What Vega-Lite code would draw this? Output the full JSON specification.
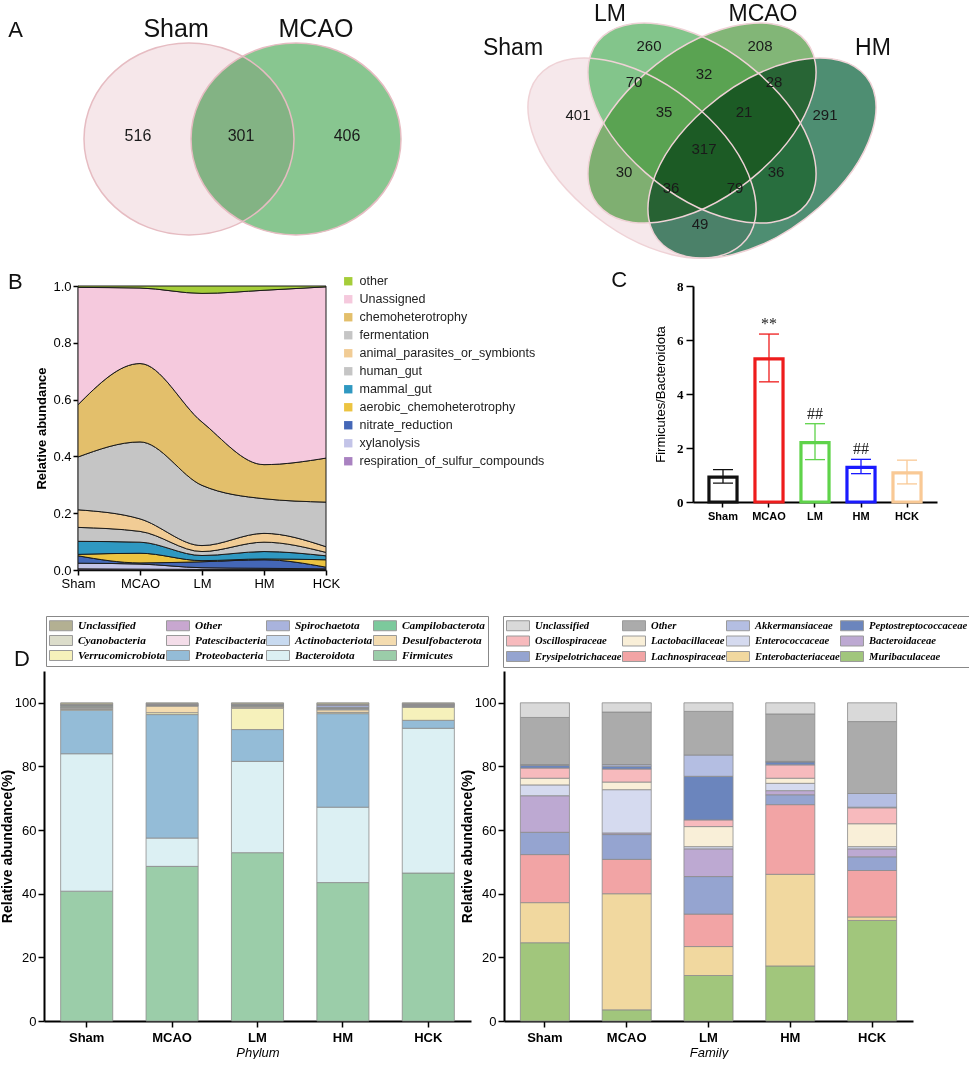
{
"$schema": "https://vega.github.io/schema/vega-lite/v6.json",
"padding": 0,
"background": "white",
"spacing": 4,
"resolve": {"scale": {"color": "independent", "stroke": "independent"}, "legend": {"color": "independent", "stroke": "independent"}},
"config": {
  "view": {"stroke": null},
  "font": "Liberation Sans",
  "axis": {"grid": false, "domainColor": "#000", "tickColor": "#000", "labelColor": "#000", "titleColor": "#000", "labelFont": "Liberation Sans", "titleFont": "Liberation Sans"},
  "title": {"font": "Liberation Sans", "color": "#000"},
  "text": {"font": "Liberation Sans"}
},
"datasets": {
  "faprotax": [
    {"group":"Sham","func":"respiration_of_sulfur_compounds","value":0.004},{"group":"Sham","func":"xylanolysis","value":0.020},{"group":"Sham","func":"nitrate_reduction","value":0.026},{"group":"Sham","func":"aerobic_chemoheterotrophy","value":0.005},{"group":"Sham","func":"mammal_gut","value":0.046},{"group":"Sham","func":"human_gut","value":0.049},{"group":"Sham","func":"animal_parasites_or_symbionts","value":0.062},{"group":"Sham","func":"fermentation","value":0.186},{"group":"Sham","func":"chemoheterotrophy","value":0.184},{"group":"Sham","func":"Unassigned","value":0.413},{"group":"Sham","func":"other","value":0.005},
    {"group":"MCAO","func":"respiration_of_sulfur_compounds","value":0.003},{"group":"MCAO","func":"xylanolysis","value":0.018},{"group":"MCAO","func":"nitrate_reduction","value":0.004},{"group":"MCAO","func":"aerobic_chemoheterotrophy","value":0.034},{"group":"MCAO","func":"mammal_gut","value":0.039},{"group":"MCAO","func":"human_gut","value":0.038},{"group":"MCAO","func":"animal_parasites_or_symbionts","value":0.044},{"group":"MCAO","func":"fermentation","value":0.271},{"group":"MCAO","func":"chemoheterotrophy","value":0.276},{"group":"MCAO","func":"Unassigned","value":0.266},{"group":"MCAO","func":"other","value":0.007},
    {"group":"LM","func":"respiration_of_sulfur_compounds","value":0.002},{"group":"LM","func":"xylanolysis","value":0.006},{"group":"LM","func":"nitrate_reduction","value":0.021},{"group":"LM","func":"aerobic_chemoheterotrophy","value":0.004},{"group":"LM","func":"mammal_gut","value":0.018},{"group":"LM","func":"human_gut","value":0.014},{"group":"LM","func":"animal_parasites_or_symbionts","value":0.021},{"group":"LM","func":"fermentation","value":0.212},{"group":"LM","func":"chemoheterotrophy","value":0.223},{"group":"LM","func":"Unassigned","value":0.453},{"group":"LM","func":"other","value":0.026},
    {"group":"HM","func":"respiration_of_sulfur_compounds","value":0.002},{"group":"HM","func":"xylanolysis","value":0.004},{"group":"HM","func":"nitrate_reduction","value":0.030},{"group":"HM","func":"aerobic_chemoheterotrophy","value":0.003},{"group":"HM","func":"mammal_gut","value":0.026},{"group":"HM","func":"human_gut","value":0.033},{"group":"HM","func":"animal_parasites_or_symbionts","value":0.031},{"group":"HM","func":"fermentation","value":0.122},{"group":"HM","func":"chemoheterotrophy","value":0.120},{"group":"HM","func":"Unassigned","value":0.614},{"group":"HM","func":"other","value":0.015},
    {"group":"HCK","func":"respiration_of_sulfur_compounds","value":0.002},{"group":"HCK","func":"xylanolysis","value":0.002},{"group":"HCK","func":"nitrate_reduction","value":0.006},{"group":"HCK","func":"aerobic_chemoheterotrophy","value":0.026},{"group":"HCK","func":"mammal_gut","value":0.014},{"group":"HCK","func":"human_gut","value":0.012},{"group":"HCK","func":"animal_parasites_or_symbionts","value":0.020},{"group":"HCK","func":"fermentation","value":0.157},{"group":"HCK","func":"chemoheterotrophy","value":0.155},{"group":"HCK","func":"Unassigned","value":0.603},{"group":"HCK","func":"other","value":0.003}
  ],
  "func_legend": [
    {"func":"other","legend_pos":1},{"func":"Unassigned","legend_pos":2},{"func":"chemoheterotrophy","legend_pos":3},{"func":"fermentation","legend_pos":4},{"func":"animal_parasites_or_symbionts","legend_pos":5},{"func":"human_gut","legend_pos":6},{"func":"mammal_gut","legend_pos":7},{"func":"aerobic_chemoheterotrophy","legend_pos":8},{"func":"nitrate_reduction","legend_pos":9},{"func":"xylanolysis","legend_pos":10},{"func":"respiration_of_sulfur_compounds","legend_pos":11}
  ],
  "fb_ratio": [
    {"group":"Sham","ratio":0.92,"lo":0.70,"hi":1.20,"sig":""},
    {"group":"MCAO","ratio":5.30,"lo":4.45,"hi":6.22,"sig":"**"},
    {"group":"LM","ratio":2.20,"lo":1.57,"hi":2.90,"sig":"##"},
    {"group":"HM","ratio":1.28,"lo":1.05,"hi":1.58,"sig":"##"},
    {"group":"HCK","ratio":1.08,"lo":0.67,"hi":1.55,"sig":""}
  ],
  "phyla": [
    {"group":"Sham","phylum":"Firmicutes","pct":40.8},{"group":"Sham","phylum":"Bacteroidota","pct":43.2},{"group":"Sham","phylum":"Proteobacteria","pct":13.7},{"group":"Sham","phylum":"Verrucomicrobiota","pct":0.2},{"group":"Sham","phylum":"Desulfobacterota","pct":0.4},{"group":"Sham","phylum":"Actinobacteriota","pct":0.2},{"group":"Sham","phylum":"Patescibacteria","pct":0.1},{"group":"Sham","phylum":"Cyanobacteria","pct":0.3},{"group":"Sham","phylum":"Campilobacterota","pct":0.3},{"group":"Sham","phylum":"Spirochaetota","pct":0.1},{"group":"Sham","phylum":"Other","pct":0.2},{"group":"Sham","phylum":"Unclassified","pct":0.5},
    {"group":"MCAO","phylum":"Firmicutes","pct":48.6},{"group":"MCAO","phylum":"Bacteroidota","pct":8.9},{"group":"MCAO","phylum":"Proteobacteria","pct":38.8},{"group":"MCAO","phylum":"Verrucomicrobiota","pct":0.6},{"group":"MCAO","phylum":"Desulfobacterota","pct":2.1},{"group":"MCAO","phylum":"Actinobacteriota","pct":0.1},{"group":"MCAO","phylum":"Patescibacteria","pct":0.1},{"group":"MCAO","phylum":"Cyanobacteria","pct":0.1},{"group":"MCAO","phylum":"Campilobacterota","pct":0.1},{"group":"MCAO","phylum":"Spirochaetota","pct":0.1},{"group":"MCAO","phylum":"Other","pct":0.2},{"group":"MCAO","phylum":"Unclassified","pct":0.3},
    {"group":"LM","phylum":"Firmicutes","pct":52.9},{"group":"LM","phylum":"Bacteroidota","pct":28.7},{"group":"LM","phylum":"Proteobacteria","pct":10.0},{"group":"LM","phylum":"Verrucomicrobiota","pct":6.7},{"group":"LM","phylum":"Desulfobacterota","pct":0.4},{"group":"LM","phylum":"Actinobacteriota","pct":0.1},{"group":"LM","phylum":"Patescibacteria","pct":0.1},{"group":"LM","phylum":"Cyanobacteria","pct":0.2},{"group":"LM","phylum":"Campilobacterota","pct":0.2},{"group":"LM","phylum":"Spirochaetota","pct":0.1},{"group":"LM","phylum":"Other","pct":0.2},{"group":"LM","phylum":"Unclassified","pct":0.4},
    {"group":"HM","phylum":"Firmicutes","pct":43.5},{"group":"HM","phylum":"Bacteroidota","pct":23.7},{"group":"HM","phylum":"Proteobacteria","pct":29.4},{"group":"HM","phylum":"Verrucomicrobiota","pct":0.4},{"group":"HM","phylum":"Desulfobacterota","pct":0.8},{"group":"HM","phylum":"Actinobacteriota","pct":0.3},{"group":"HM","phylum":"Patescibacteria","pct":0.1},{"group":"HM","phylum":"Cyanobacteria","pct":0.2},{"group":"HM","phylum":"Campilobacterota","pct":0.2},{"group":"HM","phylum":"Spirochaetota","pct":0.6},{"group":"HM","phylum":"Other","pct":0.3},{"group":"HM","phylum":"Unclassified","pct":0.5},
    {"group":"HCK","phylum":"Firmicutes","pct":46.5},{"group":"HCK","phylum":"Bacteroidota","pct":45.5},{"group":"HCK","phylum":"Proteobacteria","pct":2.5},{"group":"HCK","phylum":"Verrucomicrobiota","pct":4.1},{"group":"HCK","phylum":"Desulfobacterota","pct":0.2},{"group":"HCK","phylum":"Actinobacteriota","pct":0.2},{"group":"HCK","phylum":"Patescibacteria","pct":0.1},{"group":"HCK","phylum":"Cyanobacteria","pct":0.2},{"group":"HCK","phylum":"Campilobacterota","pct":0.1},{"group":"HCK","phylum":"Spirochaetota","pct":0.1},{"group":"HCK","phylum":"Other","pct":0.2},{"group":"HCK","phylum":"Unclassified","pct":0.3}
  ],
  "phylum_legend": [
    {"phylum":"Unclassified","legend_pos":1},{"phylum":"Other","legend_pos":2},{"phylum":"Spirochaetota","legend_pos":3},{"phylum":"Campilobacterota","legend_pos":4},{"phylum":"Cyanobacteria","legend_pos":5},{"phylum":"Patescibacteria","legend_pos":6},{"phylum":"Actinobacteriota","legend_pos":7},{"phylum":"Desulfobacterota","legend_pos":8},{"phylum":"Verrucomicrobiota","legend_pos":9},{"phylum":"Proteobacteria","legend_pos":10},{"phylum":"Bacteroidota","legend_pos":11},{"phylum":"Firmicutes","legend_pos":12}
  ],
  "families": [
    {"group":"Sham","family":"Muribaculaceae","pct":24.6},{"group":"Sham","family":"Enterobacteriaceae","pct":12.6},{"group":"Sham","family":"Lachnospiraceae","pct":15.1},{"group":"Sham","family":"Erysipelotrichaceae","pct":7.0},{"group":"Sham","family":"Bacteroidaceae","pct":11.5},{"group":"Sham","family":"Enterococcaceae","pct":3.4},{"group":"Sham","family":"Lactobacillaceae","pct":2.1},{"group":"Sham","family":"Oscillospiraceae","pct":3.2},{"group":"Sham","family":"Peptostreptococcaceae","pct":0.8},{"group":"Sham","family":"Akkermansiaceae","pct":0.3},{"group":"Sham","family":"Other","pct":14.8},{"group":"Sham","family":"Unclassified","pct":4.6},
    {"group":"MCAO","family":"Muribaculaceae","pct":3.5},{"group":"MCAO","family":"Enterobacteriaceae","pct":36.5},{"group":"MCAO","family":"Lachnospiraceae","pct":10.8},{"group":"MCAO","family":"Erysipelotrichaceae","pct":7.8},{"group":"MCAO","family":"Bacteroidaceae","pct":0.5},{"group":"MCAO","family":"Enterococcaceae","pct":13.6},{"group":"MCAO","family":"Lactobacillaceae","pct":2.4},{"group":"MCAO","family":"Oscillospiraceae","pct":4.1},{"group":"MCAO","family":"Peptostreptococcaceae","pct":0.9},{"group":"MCAO","family":"Akkermansiaceae","pct":0.5},{"group":"MCAO","family":"Other","pct":16.5},{"group":"MCAO","family":"Unclassified","pct":2.9},
    {"group":"LM","family":"Muribaculaceae","pct":14.3},{"group":"LM","family":"Enterobacteriaceae","pct":9.1},{"group":"LM","family":"Lachnospiraceae","pct":10.2},{"group":"LM","family":"Erysipelotrichaceae","pct":11.8},{"group":"LM","family":"Bacteroidaceae","pct":8.7},{"group":"LM","family":"Enterococcaceae","pct":0.7},{"group":"LM","family":"Lactobacillaceae","pct":6.3},{"group":"LM","family":"Oscillospiraceae","pct":2.1},{"group":"LM","family":"Peptostreptococcaceae","pct":13.7},{"group":"LM","family":"Akkermansiaceae","pct":6.7},{"group":"LM","family":"Other","pct":13.7},{"group":"LM","family":"Unclassified","pct":2.7},
    {"group":"HM","family":"Muribaculaceae","pct":17.3},{"group":"HM","family":"Enterobacteriaceae","pct":28.8},{"group":"HM","family":"Lachnospiraceae","pct":21.9},{"group":"HM","family":"Erysipelotrichaceae","pct":3.1},{"group":"HM","family":"Bacteroidaceae","pct":1.3},{"group":"HM","family":"Enterococcaceae","pct":2.3},{"group":"HM","family":"Lactobacillaceae","pct":1.6},{"group":"HM","family":"Oscillospiraceae","pct":4.2},{"group":"HM","family":"Peptostreptococcaceae","pct":0.9},{"group":"HM","family":"Akkermansiaceae","pct":0.2},{"group":"HM","family":"Other","pct":14.9},{"group":"HM","family":"Unclassified","pct":3.5},
    {"group":"HCK","family":"Muribaculaceae","pct":31.6},{"group":"HCK","family":"Enterobacteriaceae","pct":1.1},{"group":"HCK","family":"Lachnospiraceae","pct":14.6},{"group":"HCK","family":"Erysipelotrichaceae","pct":4.3},{"group":"HCK","family":"Bacteroidaceae","pct":2.5},{"group":"HCK","family":"Enterococcaceae","pct":0.7},{"group":"HCK","family":"Lactobacillaceae","pct":7.2},{"group":"HCK","family":"Oscillospiraceae","pct":5.0},{"group":"HCK","family":"Peptostreptococcaceae","pct":0.2},{"group":"HCK","family":"Akkermansiaceae","pct":4.3},{"group":"HCK","family":"Other","pct":22.6},{"group":"HCK","family":"Unclassified","pct":5.9}
  ],
  "family_legend": [
    {"family":"Unclassified","legend_pos":1},{"family":"Other","legend_pos":2},{"family":"Akkermansiaceae","legend_pos":3},{"family":"Peptostreptococcaceae","legend_pos":4},{"family":"Oscillospiraceae","legend_pos":5},{"family":"Lactobacillaceae","legend_pos":6},{"family":"Enterococcaceae","legend_pos":7},{"family":"Bacteroidaceae","legend_pos":8},{"family":"Erysipelotrichaceae","legend_pos":9},{"family":"Lachnospiraceae","legend_pos":10},{"family":"Enterobacteriaceae","legend_pos":11},{"family":"Muribaculaceae","legend_pos":12}
  ]
},
"vconcat": [
  {
    "hconcat": [
      {
        "width": 480, "height": 265,
        "encoding": {
          "x": {"field": "u", "type": "quantitative", "scale": {"domain": [-2.257, 2.229], "nice": false, "zero": false}, "axis": null},
          "y": {"field": "v", "type": "quantitative", "scale": {"domain": [-1.178, 1.299], "nice": false, "zero": false}, "axis": null}
        },
        "layer": [
          {"data": {"values": [{"set": "Sham", "u": -0.5, "v": 0}]},
           "mark": {"type": "point", "shape": "M1,0 C1,0.505 0.552,0.914 0,0.914 C-0.552,0.914 -1,0.505 -1,0 C-1,-0.505 -0.552,-0.914 0,-0.914 C0.552,-0.914 1,-0.505 1,0 Z", "size": 44100, "filled": true, "color": "#f6e7ea", "opacity": 1, "strokeWidth": 0}},
          {"data": {"values": [{"set": "MCAO", "u": 0.5, "v": 0}]},
           "mark": {"type": "point", "shape": "M1,0 C1,0.505 0.552,0.914 0,0.914 C-0.552,0.914 -1,0.505 -1,0 C-1,-0.505 -0.552,-0.914 0,-0.914 C0.552,-0.914 1,-0.505 1,0 Z", "size": 44100, "filled": true, "color": "#88c690", "opacity": 1, "strokeWidth": 0, "blend": "multiply"}},
          {"data": {"values": [{"set": "Sham", "u": -0.5, "v": 0}, {"set": "MCAO", "u": 0.5, "v": 0}]},
           "mark": {"type": "point", "shape": "M1,0 C1,0.505 0.552,0.914 0,0.914 C-0.552,0.914 -1,0.505 -1,0 C-1,-0.505 -0.552,-0.914 0,-0.914 C0.552,-0.914 1,-0.505 1,0 Z", "size": 44100, "filled": false, "stroke": "#e6bcc2", "strokeWidth": 1.5, "opacity": 1}},
          {"data": {"values": [{"n": "516", "u": -0.977, "v": 0.028}, {"n": "301", "u": -0.014, "v": 0.028}, {"n": "406", "u": 0.977, "v": 0.028}]},
           "mark": {"type": "text", "fontSize": 16, "baseline": "middle", "align": "center", "color": "#1a1a1a"},
           "encoding": {"text": {"field": "n", "type": "nominal"}}},
          {"data": {"values": [{"label": "Sham", "u": -0.621, "v": 0.953}, {"label": "MCAO", "u": 0.687, "v": 0.953}]},
           "mark": {"type": "text", "fontSize": 25, "baseline": "alphabetic", "align": "center", "color": "#111"},
           "encoding": {"text": {"field": "label", "type": "nominal"}}},
          {"data": {"values": [{"label": "A", "u": -2.19, "v": 0.953}]},
           "mark": {"type": "text", "fontSize": 22, "baseline": "alphabetic", "align": "left", "color": "#111"},
           "encoding": {"text": {"field": "label", "type": "nominal"}}}
        ]
      },
      {
        "width": 489, "height": 265,
        "encoding": {
          "x": {"field": "u", "type": "quantitative", "scale": {"domain": [-0.0525, 1.17], "nice": false, "zero": false}, "axis": null},
          "y": {"field": "v", "type": "quantitative", "scale": {"domain": [0.1655, 0.9205], "nice": false, "zero": false}, "axis": null}
        },
        "layer": [
          {"data": {"values": [{"set": "Sham", "u": 0.35, "v": 0.47}]},
           "mark": {"type": "point", "shape": "M0.990,0.869 C1.303,0.595 1.113,-0.016 0.566,-0.496 C0.019,-0.976 -0.677,-1.143 -0.990,-0.869 C-1.303,-0.595 -1.113,0.016 -0.566,0.496 C-0.019,0.976 0.677,1.143 0.990,0.869 Z", "size": 40000, "filled": true, "color": "#f6e8eb", "opacity": 1, "strokeWidth": 0}},
          {"data": {"values": [{"set": "LM", "u": 0.5, "v": 0.57}]},
           "mark": {"type": "point", "shape": "M0.990,0.869 C1.303,0.595 1.113,-0.016 0.566,-0.496 C0.019,-0.976 -0.677,-1.143 -0.990,-0.869 C-1.303,-0.595 -1.113,0.016 -0.566,0.496 C-0.019,0.976 0.677,1.143 0.990,0.869 Z", "size": 40000, "filled": true, "color": "#83c58b", "opacity": 1, "strokeWidth": 0}},
          {"data": {"values": [{"set": "MCAO", "u": 0.5, "v": 0.57}]},
           "mark": {"type": "point", "shape": "M-0.990,0.869 C-1.303,0.595 -1.113,-0.016 -0.566,-0.496 C-0.019,-0.976 0.677,-1.143 0.990,-0.869 C1.303,-0.595 1.113,0.016 0.566,0.496 C0.019,0.976 -0.677,1.143 -0.990,0.869 Z", "size": 40000, "filled": true, "color": "#479436", "opacity": 0.68, "strokeWidth": 0}},
          {"data": {"values": [{"set": "HM", "u": 0.65, "v": 0.47}]},
           "mark": {"type": "point", "shape": "M-0.990,0.869 C-1.303,0.595 -1.113,-0.016 -0.566,-0.496 C-0.019,-0.976 0.677,-1.143 0.990,-0.869 C1.303,-0.595 1.113,0.016 0.566,0.496 C0.019,0.976 -0.677,1.143 -0.990,0.869 Z", "size": 40000, "filled": true, "color": "#4e8e72", "opacity": 1, "strokeWidth": 0, "blend": "multiply"}},
          {"data": {"values": [{"set": "Sham", "u": 0.35, "v": 0.47}, {"set": "LM", "u": 0.5, "v": 0.57}]},
           "mark": {"type": "point", "shape": "M0.990,0.869 C1.303,0.595 1.113,-0.016 0.566,-0.496 C0.019,-0.976 -0.677,-1.143 -0.990,-0.869 C-1.303,-0.595 -1.113,0.016 -0.566,0.496 C-0.019,0.976 0.677,1.143 0.990,0.869 Z", "size": 40000, "filled": false, "stroke": "#efd2d6", "strokeWidth": 1.5, "opacity": 1}},
          {"data": {"values": [{"set": "MCAO", "u": 0.5, "v": 0.57}, {"set": "HM", "u": 0.65, "v": 0.47}]},
           "mark": {"type": "point", "shape": "M-0.990,0.869 C-1.303,0.595 -1.113,-0.016 -0.566,-0.496 C-0.019,-0.976 0.677,-1.143 0.990,-0.869 C1.303,-0.595 1.113,0.016 0.566,0.496 C0.019,0.976 -0.677,1.143 -0.990,0.869 Z", "size": 40000, "filled": false, "stroke": "#efd2d6", "strokeWidth": 1.5, "opacity": 1}},
          {"data": {"values": [
              {"n": "260", "u": 0.3675, "v": 0.7895}, {"n": "208", "u": 0.645, "v": 0.7895},
              {"n": "70", "u": 0.33, "v": 0.687}, {"n": "32", "u": 0.505, "v": 0.710}, {"n": "28", "u": 0.68, "v": 0.687},
              {"n": "401", "u": 0.19, "v": 0.593}, {"n": "35", "u": 0.405, "v": 0.601}, {"n": "21", "u": 0.605, "v": 0.601}, {"n": "291", "u": 0.8075, "v": 0.593},
              {"n": "317", "u": 0.505, "v": 0.496}, {"n": "30", "u": 0.305, "v": 0.43}, {"n": "36", "u": 0.685, "v": 0.43},
              {"n": "36", "u": 0.4225, "v": 0.385}, {"n": "79", "u": 0.5825, "v": 0.385}, {"n": "49", "u": 0.495, "v": 0.282}]},
           "mark": {"type": "text", "fontSize": 15, "baseline": "middle", "align": "center", "color": "#1a1a1a"},
           "encoding": {"text": {"field": "n", "type": "nominal"}}},
          {"data": {"values": [{"label": "Sham", "u": 0.0275, "v": 0.764}, {"label": "LM", "u": 0.27, "v": 0.86}, {"label": "MCAO", "u": 0.6525, "v": 0.86}, {"label": "HM", "u": 0.9275, "v": 0.764}]},
           "mark": {"type": "text", "fontSize": 23, "baseline": "alphabetic", "align": "center", "color": "#111"},
           "encoding": {"text": {"field": "label", "type": "nominal"}}}
        ]
      }
    ],
    "spacing": 0,
    "bounds": "flush",
    "resolve": {"scale": {"color": "independent", "stroke": "independent"}, "legend": {"color": "independent", "stroke": "independent"}}
  },
  {
    "hconcat": [
      {"width": 77, "height": 325,
       "data": {"values": [{"panel": "B", "u": 0.091, "v": 0.991}]},
       "mark": {"type": "text", "fontSize": 22, "align": "left", "baseline": "alphabetic", "color": "#111"},
       "encoding": {
         "x": {"field": "u", "type": "quantitative", "scale": {"domain": [0, 1], "nice": false, "zero": false}, "axis": null},
         "y": {"field": "v", "type": "quantitative", "scale": {"domain": [0, 1], "nice": false, "zero": false}, "axis": null},
         "text": {"field": "panel", "type": "nominal"}
       }},
      {
        "width": 248, "height": 284,
        "data": {"name": "faprotax"},
        "transform": [{"lookup": "func", "from": {"data": {"name": "func_legend"}, "key": "func", "fields": ["legend_pos"]}}],
        "mark": {"type": "area", "interpolate": "monotone", "stroke": "#1a1a1a", "strokeWidth": 1, "opacity": 1},
        "encoding": {
          "x": {"field": "group", "type": "ordinal", "scale": {"type": "point", "padding": 0, "domain": ["Sham", "MCAO", "LM", "HM", "HCK"]},
                "axis": {"title": null, "labelAngle": 0, "labelFontSize": 13, "tickSize": 5, "tickWidth": 1.5, "domainWidth": 1.5, "labelPadding": 2}},
          "y": {"field": "value", "type": "quantitative", "stack": "zero", "scale": {"domain": [0, 1], "nice": false},
                "axis": {"values": [0, 0.2, 0.4, 0.6, 0.8, 1], "format": ".1f", "labelFontSize": 13, "tickSize": 5, "tickWidth": 1.5, "domainWidth": 1.5, "labelPadding": 2, "title": "Relative abundance", "titleFontSize": 13, "titleFontWeight": "bold", "titlePadding": 4}},
          "color": {"field": "func", "type": "nominal",
                    "scale": {"domain": ["other", "Unassigned", "chemoheterotrophy", "fermentation", "animal_parasites_or_symbionts", "human_gut", "mammal_gut", "aerobic_chemoheterotrophy", "nitrate_reduction", "xylanolysis", "respiration_of_sulfur_compounds"],
                              "range": ["#a5cd39", "#f5c9dd", "#e3bf6b", "#c5c5c5", "#f1cc95", "#c5c5c5", "#2f98c1", "#ecc441", "#4467b7", "#c3c4e8", "#a982c1"]},
                    "legend": {"orient": "none", "legendX": 264, "legendY": -11, "title": null, "symbolType": "square", "symbolSize": 70, "symbolStrokeWidth": 0, "symbolOpacity": 1, "labelFontSize": 12.5, "labelFont": "Liberation Sans", "labelColor": "#222", "rowPadding": 5, "labelOffset": 5, "labelLimit": 300, "padding": 0}},
          "order": {"field": "legend_pos", "type": "quantitative", "sort": "descending"}
        }
      },
      {"width": 367, "height": 10,
       "data": {"values": [{"panel": "C", "u": 0.777, "v": 0.9}]},
       "mark": {"type": "text", "fontSize": 22, "align": "left", "baseline": "alphabetic", "color": "#111"},
       "encoding": {
         "x": {"field": "u", "type": "quantitative", "scale": {"domain": [0, 1], "nice": false, "zero": false}, "axis": null},
         "y": {"field": "v", "type": "quantitative", "scale": {"domain": [0, 1], "nice": false, "zero": false}, "axis": null},
         "text": {"field": "panel", "type": "nominal"}
       }},
      {
        "width": 244, "height": 216,
        "data": {"name": "fb_ratio"},
        "encoding": {
          "x": {"field": "group", "type": "nominal", "scale": {"type": "band", "domain": ["Sham", "MCAO", "LM", "HM", "HCK"], "paddingInner": 0.39, "paddingOuter": 0.347},
                "axis": {"title": null, "labelAngle": 0, "labelFontSize": 11, "labelFontWeight": "bold", "tickSize": 5, "tickWidth": 1.5, "domainWidth": 2, "labelPadding": 3}}
        },
        "layer": [
          {"mark": {"type": "bar", "fill": "white", "strokeWidth": 3.2},
           "encoding": {
             "y": {"field": "ratio", "type": "quantitative", "title": "Firmicutes/Bacteroidota", "scale": {"domain": [0, 8], "nice": false},
                   "axis": {"values": [0, 2, 4, 6, 8], "labelFont": "Liberation Serif", "labelFontWeight": "bold", "labelFontSize": 13, "tickSize": 7, "tickWidth": 1.5, "domainWidth": 2, "labelPadding": 3, "titleFontSize": 13, "titleFontWeight": "normal", "titlePadding": 9}},
             "stroke": {"field": "group", "type": "nominal", "scale": {"domain": ["Sham", "MCAO", "LM", "HM", "HCK"], "range": ["#111111", "#ee1c1c", "#5fd34a", "#1a1aff", "#f9c995"]}, "legend": null}
           }},
          {"mark": {"type": "rule", "strokeWidth": 1.3},
           "encoding": {
             "y": {"field": "lo", "type": "quantitative", "title": "Firmicutes/Bacteroidota"},
             "y2": {"field": "hi"},
             "stroke": {"field": "group", "type": "nominal", "scale": {"domain": ["Sham", "MCAO", "LM", "HM", "HCK"], "range": ["#111111", "#ee1c1c", "#5fd34a", "#1a1aff", "#f9c995"]}, "legend": null}
           }},
          {"mark": {"type": "tick", "orient": "horizontal", "size": 20, "thickness": 1.3, "opacity": 1},
           "encoding": {
             "y": {"field": "hi", "type": "quantitative", "title": "Firmicutes/Bacteroidota"},
             "color": {"field": "group", "type": "nominal", "scale": {"domain": ["Sham", "MCAO", "LM", "HM", "HCK"], "range": ["#111111", "#ee1c1c", "#5fd34a", "#1a1aff", "#f9c995"]}, "legend": null}
           }},
          {"mark": {"type": "tick", "orient": "horizontal", "size": 20, "thickness": 1.3, "opacity": 1},
           "encoding": {
             "y": {"field": "lo", "type": "quantitative", "title": "Firmicutes/Bacteroidota"},
             "color": {"field": "group", "type": "nominal", "scale": {"domain": ["Sham", "MCAO", "LM", "HM", "HCK"], "range": ["#111111", "#ee1c1c", "#5fd34a", "#1a1aff", "#f9c995"]}, "legend": null}
           }},
          {"mark": {"type": "text", "font": "Liberation Serif", "fontSize": 16, "baseline": "alphabetic", "align": "center", "dy": -5, "color": "#222"},
           "encoding": {
             "y": {"field": "hi", "type": "quantitative", "title": "Firmicutes/Bacteroidota"},
             "text": {"field": "sig", "type": "nominal"}
           }}
        ]
      }
    ],
    "spacing": 0,
    "bounds": "flush",
    "resolve": {"scale": {"color": "independent", "stroke": "independent"}, "legend": {"color": "independent", "stroke": "independent"}}
  },
  {
    "hconcat": [
      {"width": 43, "height": 10,
       "data": {"values": [{"panel": "D", "u": 0.302, "v": 1.5}]},
       "mark": {"type": "text", "fontSize": 22, "align": "left", "baseline": "alphabetic", "color": "#111"},
       "encoding": {
         "x": {"field": "u", "type": "quantitative", "scale": {"domain": [0, 1], "nice": false, "zero": false}, "axis": null},
         "y": {"field": "v", "type": "quantitative", "scale": {"domain": [0, 1], "nice": false, "zero": false}, "axis": null},
         "text": {"field": "panel", "type": "nominal"}
       }},
      {
        "width": 427, "height": 350,
        "data": {"name": "phyla"},
        "transform": [{"lookup": "phylum", "from": {"data": {"name": "phylum_legend"}, "key": "phylum", "fields": ["legend_pos"]}}],
        "mark": {"type": "bar", "stroke": "#8c8c8c", "strokeWidth": 0.8},
        "encoding": {
          "x": {"field": "group", "type": "nominal", "scale": {"type": "band", "domain": ["Sham", "MCAO", "LM", "HM", "HCK"], "paddingInner": 0.39, "paddingOuter": 0.195},
                "axis": {"title": "Phylum", "titleFontStyle": "italic", "titleFontWeight": "normal", "titleFontSize": 13, "titlePadding": 2, "labelAngle": 0, "labelFontSize": 13, "labelFontWeight": "bold", "tickSize": 6, "tickWidth": 1.5, "domainWidth": 2, "labelPadding": 4}},
          "y": {"field": "pct", "type": "quantitative", "stack": "zero", "scale": {"domain": [0, 110], "nice": false},
                "axis": {"values": [0, 20, 40, 60, 80, 100], "labelFontSize": 13, "tickSize": 6, "tickWidth": 1.5, "domainWidth": 2, "labelPadding": 2, "title": "Relative abundance(%)", "titleFontSize": 14, "titleFontWeight": "bold", "titlePadding": 0}},
          "color": {"field": "phylum", "type": "nominal",
                    "scale": {"domain": ["Unclassified", "Other", "Spirochaetota", "Campilobacterota", "Cyanobacteria", "Patescibacteria", "Actinobacteriota", "Desulfobacterota", "Verrucomicrobiota", "Proteobacteria", "Bacteroidota", "Firmicutes"],
                              "range": ["#b3b092", "#c8a7d0", "#a9b3dd", "#7cc99c", "#dcddcb", "#f4dde9", "#c8daf0", "#f4dcb0", "#f6f1bb", "#94bcd7", "#dcf0f3", "#9bcda9"]},
                    "legend": {"orient": "none", "legendX": 2, "legendY": -55, "title": null, "direction": "horizontal", "columns": 4,
                               "symbolType": "M-1,-0.833 L2.833,-0.833 L2.833,0.833 L-1,0.833 Z", "symbolSize": 144, "symbolStrokeColor": "#9a9a9a", "symbolStrokeWidth": 1, "symbolOpacity": 1,
                               "labelFont": "Liberation Serif", "labelFontStyle": "italic", "labelFontWeight": "bold", "labelFontSize": 11.3, "labelColor": "#000",
                               "labelOffset": 16, "columnPadding": -2.5, "rowPadding": 0, "padding": 3, "strokeColor": "#888", "fillColor": "white", "labelLimit": 200}},
          "order": {"field": "legend_pos", "type": "quantitative", "sort": "descending"}
        }
      },
      {"width": 33, "height": 10, "data": {"values": []}, "mark": "text"},
      {
        "width": 409, "height": 350,
        "data": {"name": "families"},
        "transform": [{"lookup": "family", "from": {"data": {"name": "family_legend"}, "key": "family", "fields": ["legend_pos"]}}],
        "mark": {"type": "bar", "stroke": "#8c8c8c", "strokeWidth": 0.8},
        "encoding": {
          "x": {"field": "group", "type": "nominal", "scale": {"type": "band", "domain": ["Sham", "MCAO", "LM", "HM", "HCK"], "paddingInner": 0.4, "paddingOuter": 0.2},
                "axis": {"title": "Family", "titleFontStyle": "italic", "titleFontWeight": "normal", "titleFontSize": 13, "titlePadding": 2, "labelAngle": 0, "labelFontSize": 13, "labelFontWeight": "bold", "tickSize": 6, "tickWidth": 1.5, "domainWidth": 2, "labelPadding": 4}},
          "y": {"field": "pct", "type": "quantitative", "stack": "zero", "scale": {"domain": [0, 110], "nice": false},
                "axis": {"values": [0, 20, 40, 60, 80, 100], "labelFontSize": 13, "tickSize": 6, "tickWidth": 1.5, "domainWidth": 2, "labelPadding": 2, "title": "Relative abundance(%)", "titleFontSize": 14, "titleFontWeight": "bold", "titlePadding": 0}},
          "color": {"field": "family", "type": "nominal",
                    "scale": {"domain": ["Unclassified", "Other", "Akkermansiaceae", "Peptostreptococcaceae", "Oscillospiraceae", "Lactobacillaceae", "Enterococcaceae", "Bacteroidaceae", "Erysipelotrichaceae", "Lachnospiraceae", "Enterobacteriaceae", "Muribaculaceae"],
                              "range": ["#d9d9d9", "#ababab", "#b4bee2", "#6b85bd", "#f7babd", "#f9efd8", "#d5daef", "#bda9d2", "#95a4d0", "#f2a4a5", "#f1d89f", "#a1c67c"]},
                    "legend": {"orient": "none", "legendX": -1, "legendY": -55, "title": null, "direction": "horizontal", "columns": 4,
                               "symbolType": "M-1,-0.833 L2.833,-0.833 L2.833,0.833 L-1,0.833 Z", "symbolSize": 144, "symbolStrokeColor": "#9a9a9a", "symbolStrokeWidth": 1, "symbolOpacity": 1,
                               "labelFont": "Liberation Serif", "labelFontStyle": "italic", "labelFontWeight": "bold", "labelFontSize": 10.6, "labelColor": "#000",
                               "labelOffset": 16, "columnPadding": -2.5, "rowPadding": 0.5, "padding": 3, "strokeColor": "#888", "fillColor": "white", "labelLimit": 200}},
          "order": {"field": "legend_pos", "type": "quantitative", "sort": "descending"}
        }
      }
    ],
    "spacing": 0,
    "bounds": "flush",
    "resolve": {"scale": {"color": "independent", "stroke": "independent"}, "legend": {"color": "independent", "stroke": "independent"}}
  }
]
}
